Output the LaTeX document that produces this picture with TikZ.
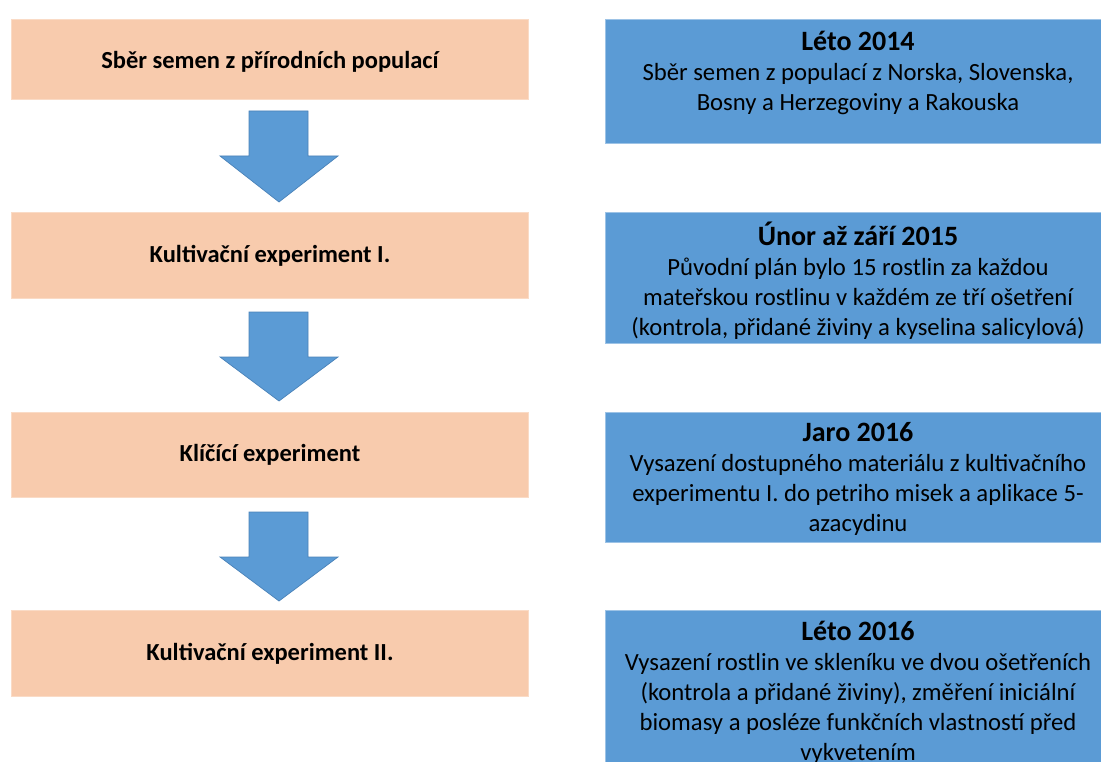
\documentclass[tikz,border=0pt]{standalone}
\usepackage{fontspec}
\setmainfont{Carlito}
\definecolor{peach}{HTML}{F8CBAD}
\definecolor{blu}{HTML}{5B9BD5}
\definecolor{bluedge}{HTML}{4A82B8}
\begin{document}
\begin{tikzpicture}[x=1pt,y=-1pt,
  stagebox/.style={fill=peach,draw=peach!70!white,line width=0.6pt},
  infobox/.style={fill=blu,draw=blu!60!white,line width=0.6pt},
  stagetext/.style={font=\fontsize{24.5}{28}\selectfont\bfseries,inner sep=0pt},
  infotext/.style={font=\fontsize{24.7}{30}\selectfont,align=center,inner sep=0pt,anchor=north},
  blockarrow/.style={fill=blu,draw=bluedge,line width=0.7pt,line join=miter}
]
\useasboundingbox (0,0) rectangle (1101,762);
\clip (0,0) rectangle (1101,762);
% left stage boxes
\path[stagebox] (11,19) rectangle (528,99);
\path[stagebox] (11,212) rectangle (528,298);
\path[stagebox] (11,412) rectangle (528,497);
\path[stagebox] (11,610) rectangle (528,696);
\node[stagetext] (s1) at (270,62) {Sběr semen z přírodních populací};
\node[stagetext] (s2) at (270,256) {Kultivační experiment I.};
\node[stagetext] (s3) at (270,455) {Klíčící experiment};
\node[stagetext] (s4) at (270,654) {Kultivační experiment II.};
% right info boxes
\path[infobox] (605,19) rectangle (1115,143);
\path[infobox] (605,212) rectangle (1115,343);
\path[infobox] (605,412) rectangle (1115,542);
\path[infobox] (605,610) rectangle (1115,780);
\newcommand{\ttl}[1]{{\fontsize{28}{30}\selectfont\bfseries #1}}
\node[infotext] (r1) at (858,29) {\strut\ttl{Léto 2014}\\Sběr semen z populací z Norska, Slovenska,\\Bosny a Herzegoviny a Rakouska};
\node[infotext] (r2) at (858,222) {\strut\ttl{Únor až září 2015}\\Původní plán bylo 15 rostlin za každou\\mateřskou rostlinu v každém ze tří ošetření\\(kontrola, přidané živiny a kyselina salicylová)};
\node[infotext] (r3) at (858,420) {\strut\ttl{Jaro 2016}\\Vysazení dostupného materiálu z kultivačního\\experimentu I. do petriho misek a aplikace 5-\\azacydinu};
\node[infotext] (r4) at (858,619) {\strut\ttl{Léto 2016}\\Vysazení rostlin ve skleníku ve dvou ošetřeních\\(kontrola a přidané živiny), změření iniciální\\biomasy a posléze funkčních vlastností před\\vykvetením};
% block arrows
\newcommand{\blockarr}[2]{%
  \draw[blockarrow] (249,#1) -- (308,#1) -- (308,#1+45) -- (338,#1+45) -- (279,#2) -- (220,#1+45) -- (249,#1+45) -- cycle;}
\blockarr{111}{202}
\blockarr{312}{401}
\blockarr{512}{601}
\end{tikzpicture}
\end{document}
